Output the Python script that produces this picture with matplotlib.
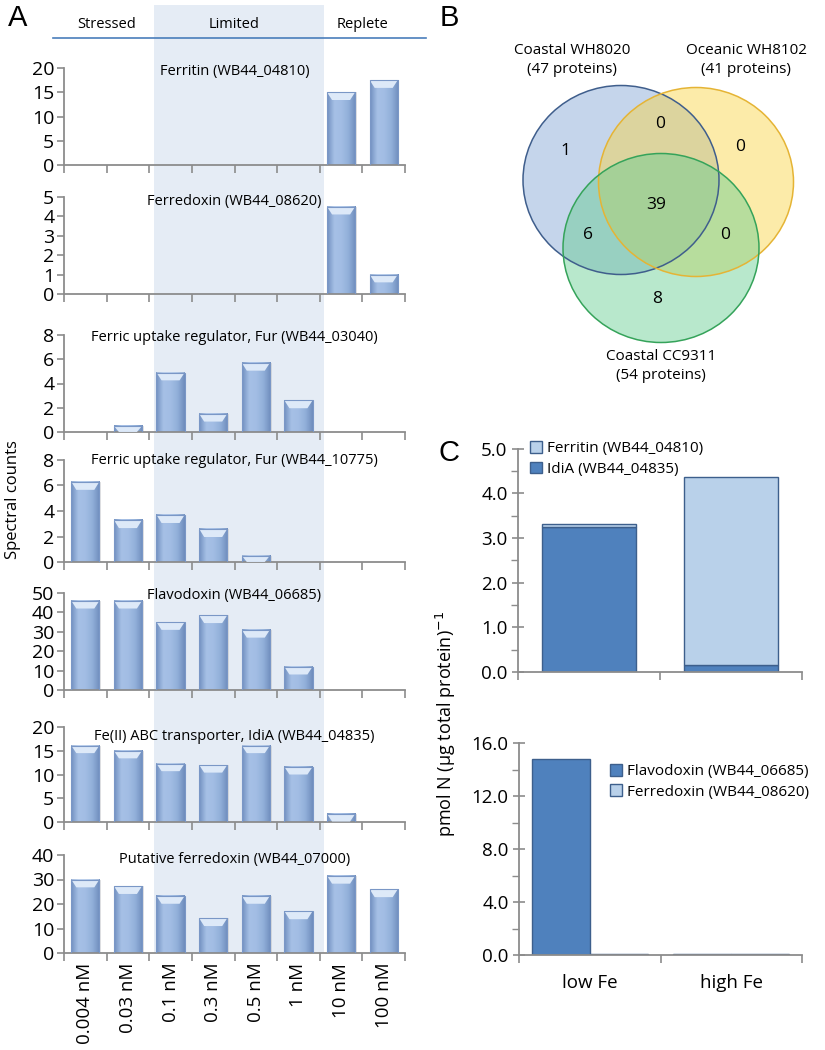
import numpy as np
import matplotlib
matplotlib.use("Agg")
import matplotlib.pyplot as plt
from matplotlib.patches import Rectangle, Ellipse, Polygon
from matplotlib.lines import Line2D
from matplotlib.colors import LinearSegmentedColormap
from matplotlib.transforms import blended_transform_factory

plt.rcParams['font.family'] = ['Open Sans', 'DejaVu Sans']

W, H = 825, 1050

# ---- panel A data (spectral counts) ----
conc_labels = ["0.004 nM", "0.03 nM", "0.1 nM", "0.3 nM", "0.5 nM", "1 nM", "10 nM", "100 nM"]
ferritin = [0, 0, 0, 0, 0, 0, 15.0, 17.5]
ferredoxin = [0, 0, 0, 0, 0, 0, 4.5, 1.0]
fur_03040 = [0, 0.5, 4.9, 1.5, 5.7, 2.6, 0, 0]
fur_10775 = [6.3, 3.3, 3.7, 2.6, 0.5, 0, 0, 0]
flavodoxin = [46, 46, 35, 38.5, 31, 12, 0, 0]
idia = [16.1, 15.0, 12.3, 12.0, 16.1, 11.6, 1.7, 0]
put_ferredoxin = [30, 27.3, 23.3, 14.2, 23.3, 17, 31.5, 26]

titles = ["Ferritin (WB44_04810)", "Ferredoxin (WB44_08620)",
          "Ferric uptake regulator, Fur (WB44_03040)",
          "Ferric uptake regulator, Fur (WB44_10775)",
          "Flavodoxin (WB44_06685)",
          "Fe(II) ABC transporter, IdiA (WB44_04835)",
          "Putative ferredoxin (WB44_07000)"]
series = [ferritin, ferredoxin, fur_03040, fur_10775, flavodoxin, idia, put_ferredoxin]
ymaxes = [20, 5, 8, 8, 50, 20, 40]
ysteps = [5, 1, 2, 2, 10, 5, 10]
regimes = ["Stressed", "Limited", "Replete"]
regime_pos = [0.5, 3.5, 6.5]

# ---- panel B data (Venn) ----
venn_sets = ["Coastal WH8020\n(47 proteins)", "Oceanic WH8102\n(41 proteins)",
             "Coastal CC9311\n(54 proteins)"]
venn_counts = [1, 0, 0, 39, 6, 0, 8]

# ---- panel C data ----
c_groups = ["low Fe", "high Fe"]
c_idia = [3.25, 0.16]
c_ferritin = [0.07, 4.2]
c_flavodoxin = [14.8, 0.1]
c_ferredoxin = [0.08, 0.1]

# layout (pixels)
a_rows = [(68, 165), (197, 294), (335, 432), (460, 562), (593, 690), (727, 822), (855, 953)]
a_left, a_right = 64, 405
title_off = [4, 4, 2, 1, 2, 10, 5]

AX_GRAY = "#8c8c8c"
DARK = "#4f81bd"
LIGHT = "#b9d1ea"
EDGE = "#3d5f8c"


def rect(l, t, r, b):
    return [l / W, 1 - b / H, (r - l) / W, (b - t) / H]


def fy(y):
    return 1 - y / H


bar_cmap = LinearSegmentedColormap.from_list(
    "bar", ["#7190c0", "#a6c0e6", "#a2bde4", "#91afd9", "#6f8dbd"])
grad = np.linspace(0, 1, 64).reshape(1, -1)


def draw_bars(ax, vals, ymax, width=0.66):
    cap = 0.08 * ymax
    for i, v in enumerate(vals):
        if v <= 0:
            continue
        x0, x1 = i - width / 2, i + width / 2
        # soft shadow on the right
        ax.add_patch(Rectangle((x0 + 0.04, 0), width, v, color="#c8c8c8",
                               alpha=0.5, lw=0, zorder=1))
        ax.imshow(grad, cmap=bar_cmap, extent=[x0, x1, 0, v], aspect="auto",
                  interpolation="bicubic", zorder=2)
        c = min(cap, v)
        ax.add_patch(Polygon([(x0, v), (x1, v), (x1 - width * 0.18, v - c),
                              (x0 + width * 0.18, v - c)], closed=True,
                             color="#dde9f8", lw=0, zorder=3))
        ax.add_patch(Rectangle((x0, 0), width, v, fill=False,
                               edgecolor="#7a97c6", lw=0.8, zorder=4))


fig = plt.figure(figsize=(W / 100, H / 100), dpi=100)

axes_a = []
for k, (vals, ttl, ymax, ystep) in enumerate(zip(series, titles, ymaxes, ysteps)):
    top, bot = a_rows[k]
    ax = fig.add_axes(rect(a_left, top, a_right, bot))
    ax.set_facecolor("none")
    draw_bars(ax, vals, ymax)
    ax.set_xlim(-0.5, 7.5)
    ax.set_ylim(0, ymax)
    ax.set_yticks(np.arange(0, ymax + ystep / 2, ystep))
    ax.set_xticks(np.arange(-0.5, 8, 1))
    ax.set_xticklabels([])
    for s in ["top", "right"]:
        ax.spines[s].set_visible(False)
    for s in ["left", "bottom"]:
        ax.spines[s].set_color(AX_GRAY)
        ax.spines[s].set_linewidth(1.3)
    ax.tick_params(axis="y", direction="out", length=5, width=1.2, color=AX_GRAY,
                   labelsize=14, pad=2)
    ax.tick_params(axis="x", direction="out", length=6, width=1.2, color=AX_GRAY)
    ax.text(3.5, 1 - title_off[k] / (bot - top), ttl, fontsize=10.5,
            ha="center", va="center",
            transform=blended_transform_factory(ax.transData, ax.transAxes), zorder=6)
    axes_a.append(ax)

last = axes_a[-1]
last.set_xticks(np.arange(len(conc_labels)), minor=True)
last.set_xticklabels(conc_labels, minor=True, rotation=90, fontsize=13.5)
last.tick_params(axis="x", which="minor", length=0, pad=7)

# shaded "Limited" band across all panel-A rows
bt = blended_transform_factory(axes_a[0].transData, fig.transFigure)
fig.add_artist(Rectangle((1.6, fy(953)), 4.0, fy(5) - fy(953), transform=bt,
                         facecolor="#e5ecf5", edgecolor="none", zorder=-1))
for name, xp in zip(regimes, regime_pos):
    fig.text(xp, fy(25), name, transform=bt, ha="center", va="center", fontsize=10.5)
fig.add_artist(Line2D([53 / W, 426 / W], [fy(38), fy(38)], color="#4a7ebb", lw=1.2))

fig.text(13 / W, fy(500), "Spectral counts", rotation=90, ha="center", va="center",
         fontsize=12)

# ---- panel B: Venn ----
axb = fig.add_axes(rect(440, 0, 825, 420))
axb.set_xlim(440, 825)
axb.set_ylim(420, 0)
axb.axis("off")
circles = [((621, 180), 196, 189, (0.50, 0.64, 0.83), "#3f5e8c"),
           ((696, 182), 195, 189, (0.98, 0.83, 0.26), "#e5b435"),
           ((661, 248), 196, 189, (0.39, 0.80, 0.56), "#35a35a")]
for (c, w, h, fc, ec) in circles:
    axb.add_patch(Ellipse(c, w, h, facecolor=fc, alpha=0.45, edgecolor="none"))
for (c, w, h, fc, ec) in circles:
    axb.add_patch(Ellipse(c, w, h, fill=False, edgecolor=ec, lw=1.1))
set_pos = [(572, 60), (746, 60), (661, 366)]
for lbl, (x, y) in zip(venn_sets, set_pos):
    axb.text(x, y, lbl, ha="center", va="center", fontsize=11, linespacing=1.3)
count_pos = [(565, 151), (660, 124), (740, 147), (656, 205), (588, 235), (725, 235), (657, 299)]
for n, (x, y) in zip(venn_counts, count_pos):
    axb.text(x, y, str(n), ha="center", va="center", fontsize=12.5)


def style_c(ax):
    for s in ["top", "right"]:
        ax.spines[s].set_visible(False)
    for s in ["left", "bottom"]:
        ax.spines[s].set_color(AX_GRAY)
        ax.spines[s].set_linewidth(1.3)
    ax.set_xlim(0, 2)
    ax.set_xticks([0, 1, 2])
    ax.tick_params(axis="x", which="major", direction="out", length=6, width=1.2,
                   color=AX_GRAY, labelbottom=False)
    ax.tick_params(axis="y", which="major", direction="inout", length=9, width=1.2,
                   color=AX_GRAY, labelsize=13.5, pad=3)
    ax.tick_params(axis="y", which="minor", direction="out", length=5, width=1.0,
                   color=AX_GRAY)
    ax.tick_params(axis="x", which="minor", length=0)


# ---- panel C upper: stacked ----
axc1 = fig.add_axes(rect(518, 448.5, 802, 672))
xc = np.arange(len(c_groups)) + 0.5
b1 = axc1.bar(xc, c_idia, 0.66, color=DARK, edgecolor=EDGE, lw=1, label="IdiA (WB44_04835)")
b2 = axc1.bar(xc, c_ferritin, 0.66, bottom=c_idia, color=LIGHT, edgecolor=EDGE, lw=1,
              label="Ferritin (WB44_04810)")
axc1.set_ylim(0, 5)
axc1.set_yticks(np.arange(0, 5.1, 1.0))
axc1.set_yticks(np.arange(0.5, 5, 1.0), minor=True)
axc1.set_yticklabels([f"{v:.1f}" for v in np.arange(0, 5.1, 1.0)])
style_c(axc1)
axc1.legend([b2, b1], ["Ferritin (WB44_04810)", "IdiA (WB44_04835)"],
            loc="upper left", bbox_to_anchor=(0.02, 1.06), frameon=False,
            fontsize=11, handlelength=0.8, handleheight=0.8, handletextpad=0.3,
            labelspacing=0.35, borderaxespad=0)

# ---- panel C lower: grouped ----
axc2 = fig.add_axes(rect(519, 743, 802, 955))
b3 = axc2.bar(xc - 0.205, c_flavodoxin, 0.41, color=DARK, edgecolor=EDGE, lw=1)
b4 = axc2.bar(xc + 0.205, c_ferredoxin, 0.41, color=LIGHT, edgecolor=EDGE, lw=1)
axc2.set_ylim(0, 16)
axc2.set_yticks(np.arange(0, 16.1, 4.0))
axc2.set_yticks(np.arange(2, 16, 4.0), minor=True)
axc2.set_yticklabels([f"{v:.1f}" for v in np.arange(0, 16.1, 4.0)])
style_c(axc2)
axc2.set_xticks(xc, minor=True)
axc2.set_xticklabels(c_groups, minor=True, fontsize=13.5)
axc2.tick_params(axis="x", which="minor", pad=14)
axc2.legend([b3, b4], ["Flavodoxin (WB44_06685)", "Ferredoxin (WB44_08620)"],
            loc="upper left", bbox_to_anchor=(0.30, 0.93), frameon=False,
            fontsize=11, handlelength=0.8, handleheight=0.8, handletextpad=0.3,
            labelspacing=0.35, borderaxespad=0)

fig.text(446 / W, fy(724), "pmol N (\u00b5g total protein)$^{-1}$", rotation=90,
         ha="center", va="center", fontsize=13)

# panel letters
for letter, x, y in [("A", 18, 18), ("B", 449, 18), ("C", 449, 453)]:
    fig.text(x / W, fy(y), letter, ha="center", va="center", fontsize=21,
             family="Liberation Sans")

fig.savefig("out.png", dpi=100)
